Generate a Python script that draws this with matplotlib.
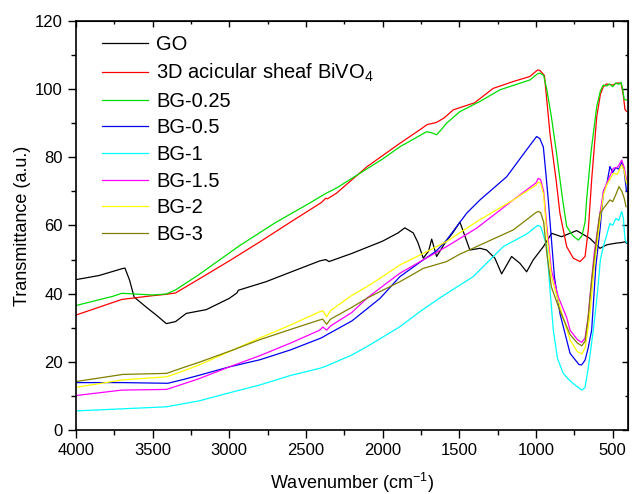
import matplotlib
matplotlib.use("Agg")
import matplotlib.pyplot as plt
from matplotlib.ticker import MultipleLocator

plt.rcParams['font.family'] = ['Liberation Sans', 'DejaVu Sans']
plt.rcParams['mathtext.fontset'] = 'custom'
plt.rcParams['mathtext.rm'] = 'Liberation Sans'
plt.rcParams['mathtext.it'] = 'Liberation Sans:italic'

# FTIR spectra
go_wn = [4000, 3850, 3700, 3680, 3650, 3620, 3540, 3470, 3410, 3350, 3280, 3150, 3000, 2950, 2940,
         2760, 2600, 2410, 2370, 2350, 2200, 2000, 1900, 1855, 1800, 1770, 1735, 1700, 1680, 1648,
         1594, 1540, 1496, 1431, 1365, 1322, 1268, 1224, 1159, 1105, 1061, 1018, 952, 898, 833, 735,
         648, 583, 540, 518, 480, 440, 420, 410]
go_t = [44.1, 45.3, 47.3, 47.5, 44, 39, 36, 33.5, 31.2, 31.8, 34.2, 35.3, 38.6, 40.2, 41,
        43.5, 46.3, 49.6, 50.0, 49.4, 51.8, 55.4, 57.8, 59.3, 57.8, 55, 50.4, 52.5, 56, 50.9,
        54.8, 58, 61, 52.8, 53.3, 52.8, 50.4, 45.8, 50.9, 48.9, 46.4, 49.9, 53.8, 57.7, 56.7, 58.5,
        56.2, 53.3, 54.3, 54.5, 54.8, 55.0, 55.2, 54.8]

red_wn = [4000, 3700, 3500, 3410, 3350, 3200, 3000, 2800, 2600, 2400, 2370, 2360, 2300, 2100, 1900,
          1750, 1710, 1650, 1600, 1540, 1400, 1280, 1150, 1040, 990, 975, 945, 930, 909, 869, 844,
          800, 757, 713, 680, 659, 637, 604, 580, 561, 540, 500, 470, 445, 430, 420, 410]
red_t = [33.7, 38.3, 39.4, 39.8, 40.2, 44.2, 49.6, 55.2, 61.0, 66.7, 68.0, 67.8, 69.5, 77.3, 83.7,
         88.3, 89.6, 90.2, 91.5, 93.9, 96, 100.2, 102.2, 103.7, 105.6, 105.5, 104, 97, 87, 73.4, 63.6,
         53.8, 50.4, 49.4, 50.9, 58.7, 73.4, 91.9, 98.5, 100.7, 101.5, 101.2, 101.8, 101.7, 98, 94, 93.5]

green_wn = [4000, 3760, 3740, 3700, 3500, 3410, 3350, 3200, 2935, 2700, 2478, 2400, 2370, 2300, 2148,
            2000, 1887, 1713, 1680, 1648, 1620, 1583, 1496, 1365, 1235, 1039, 990, 974, 950, 930,
            900, 869, 826, 800, 760, 724, 700, 680, 670, 640, 604, 580, 561, 540, 520, 500, 480,
            460, 445, 435, 425, 410]
green_t = [36.5, 39.2, 39.5, 40.1, 39.6, 39.9, 41.1, 45.5, 54.0, 60.8, 66.5, 68.6, 69.4, 71, 75.3,
           79.5, 83.1, 87.5, 87.2, 86.6, 88, 90, 93.4, 96.4, 99.8, 102.7, 104.5, 104.7, 104, 100,
           92, 82.2, 67.5, 59.7, 57, 55.7, 57, 61, 67.5, 82, 94.9, 99.5, 101.2, 100.9, 101.5, 100.7, 101.8,
           101.4, 102, 100, 97, 96.8]

blue_wn = [4000, 3700, 3400, 3300, 3200, 3000, 2800, 2600, 2400, 2365, 2200, 2017, 1887, 1735, 1650,
           1583, 1452, 1365, 1191, 1061, 996, 975, 952, 935, 920, 880, 844, 778, 720, 702, 680, 660,
           637, 610, 583, 560, 539, 518, 500, 480, 460, 440, 425, 410]
blue_t = [13.9, 13.9, 13.7, 14.8, 16.0, 18.5, 20.6, 23.5, 27.0, 27.9, 32, 38.6, 45, 49.9, 52.5,
          55.7, 63.6, 67.5, 74.3, 82.2, 86.1, 85.5, 83, 75, 67.5, 45, 34.2, 22.5, 19.2, 19.1, 20.5, 24,
          29.3, 48, 58.7, 70, 72, 77.3, 75.5, 77, 76.5, 78.5, 76, 70]

cyan_wn = [4000, 3700, 3409, 3200, 2974, 2800, 2600, 2409, 2365, 2200, 2104, 1887, 1757, 1615, 1409,
           1213, 1060, 990, 970, 950, 930, 910, 887, 860, 822, 780, 740, 700, 680, 660, 626, 600,
           580, 561, 540, 518, 500, 480, 460, 441, 430, 420, 410]
cyan_t = [5.6, 6.2, 6.8, 8.5, 11.2, 13.2, 16, 18.1, 18.8, 22, 24.4, 30.3, 34.7, 39.1, 45,
          53.8, 57.5, 60, 59.7, 57, 53.8, 42, 29.3, 21, 16.6, 14.5, 13, 11.7, 12.5, 18, 29.3, 40,
          50, 53.8, 57, 60.6, 60, 62, 61.5, 64.1, 62, 56, 54.9]

magenta_wn = [4000, 3700, 3409, 3300, 3200, 3000, 2800, 2600, 2409, 2390, 2365, 2340, 2200, 2104,
              2017, 1887, 1735, 1583, 1387, 1148, 1000, 985, 970, 950, 930, 900, 855, 800, 778, 730,
              702, 680, 660, 648, 620, 583, 560, 539, 518, 496, 470, 455, 441, 425, 410]
magenta_t = [10.1, 11.7, 11.9, 13.5, 15, 18.5, 21.8, 25.5, 29.3, 30.2, 29.3, 30.5, 34.5, 38.6,
             41.6, 46, 49.9, 53.8, 59.2, 67.5, 72.5, 73.8, 73.5, 70, 60, 47, 39.1, 33, 29.3, 26.5,
             25.7, 27, 33, 39.1, 52, 63.6, 70, 72.4, 74.5, 76.8, 77, 78, 79.2, 77, 73.4]

yellow_wn = [4000, 3694, 3409, 3300, 3200, 2974, 2800, 2600, 2409, 2390, 2365, 2340, 2200, 2104,
             2017, 1887, 1735, 1583, 1387, 1148, 1000, 985, 970, 950, 930, 900, 844, 778, 730, 702,
             680, 660, 648, 620, 583, 560, 539, 518, 496, 470, 455, 441, 425, 410]
yellow_t = [12.5, 14.7, 15.6, 17.3, 19, 23.5, 27, 30.8, 34.7, 35, 33.2, 35, 39.5, 42,
            44.5, 48.4, 51.8, 55.3, 61.1, 67.5, 71.8, 72.7, 72.4, 69, 58, 45, 36.2, 26.4, 23, 22.3,
            24, 30, 34.2, 48, 61.6, 69, 71.9, 73.5, 75.3, 75, 76.5, 77.8, 76, 72.4]

olive_wn = [4000, 3694, 3409, 3300, 3200, 2974, 2800, 2600, 2409, 2390, 2365, 2340, 2200, 2104,
            2017, 1887, 1735, 1583, 1500, 1387, 1148, 1000, 985, 970, 950, 930, 900, 844, 778, 730,
            702, 680, 660, 637, 600, 583, 560, 518, 500, 480, 459, 440, 425, 413]
olive_t = [14.2, 16.3, 16.6, 18.3, 19.8, 23.5, 26.5, 29.5, 32.3, 32.5, 31.0, 32.5, 36, 38.6,
           40.6, 43.5, 47.4, 49.4, 51.5, 53.8, 58.7, 63.8, 64.1, 63.8, 61, 52, 42, 35, 28, 25.5,
           24.7, 26, 33, 44, 58, 63.6, 65, 67.5, 67, 69, 71.4, 70, 68, 65.5]

fig = plt.figure(figsize=(6.32, 4.94), dpi=100)
ax = fig.add_axes([0.120, 0.1296, 0.8737, 0.828])

ax.plot(go_wn, go_t, color='black', lw=0.9, label='GO')
ax.plot(red_wn, red_t, color='#ff0000', lw=0.9, label='3D acicular sheaf BiVO$_4$')
ax.plot(green_wn, green_t, color='#00dd00', lw=0.9, label='BG-0.25')
ax.plot(blue_wn, blue_t, color='#0000ee', lw=0.9, label='BG-0.5')
ax.plot(cyan_wn, cyan_t, color='#00ffff', lw=0.9, label='BG-1')
ax.plot(magenta_wn, magenta_t, color='#ff00ff', lw=0.9, label='BG-1.5')
ax.plot(yellow_wn, yellow_t, color='#ffff00', lw=0.9, label='BG-2')
ax.plot(olive_wn, olive_t, color='#808000', lw=0.9, label='BG-3')

ax.set_xlim(4000, 400)
ax.set_ylim(0, 120)
ax.xaxis.set_major_locator(MultipleLocator(500))
ax.xaxis.set_minor_locator(MultipleLocator(250))
ax.yaxis.set_major_locator(MultipleLocator(20))
ax.yaxis.set_minor_locator(MultipleLocator(10))
ax.tick_params(which='major', direction='out', length=6, width=1, labelsize=12)
ax.tick_params(which='minor', direction='out', length=3.5, width=1)
for s in ax.spines.values():
    s.set_linewidth(1.2)

# top and right ticks point inward, without labels
top = ax.secondary_xaxis('top')
top.xaxis.set_major_locator(MultipleLocator(500))
top.xaxis.set_minor_locator(MultipleLocator(250))
top.tick_params(which='major', direction='in', length=4, width=1, labeltop=False)
top.tick_params(which='minor', direction='in', length=2.5, width=1)
right = ax.secondary_yaxis('right')
right.yaxis.set_major_locator(MultipleLocator(20))
right.yaxis.set_minor_locator(MultipleLocator(10))
right.tick_params(which='major', direction='in', length=4, width=1, labelright=False)
right.tick_params(which='minor', direction='in', length=2.5, width=1)

ax.set_xlabel('Wavenumber (cm$^{-1}$)', fontsize=13, labelpad=9)
ax.set_ylabel('Transmittance (a.u.)', fontsize=13, labelpad=3)

ax.legend(loc='upper left', bbox_to_anchor=(0.033, 0.985), frameon=False, fontsize=14.5,
          handlelength=2.3, handletextpad=0.4, labelspacing=0.38, borderaxespad=0)

fig.savefig('out.png', dpi=100)
